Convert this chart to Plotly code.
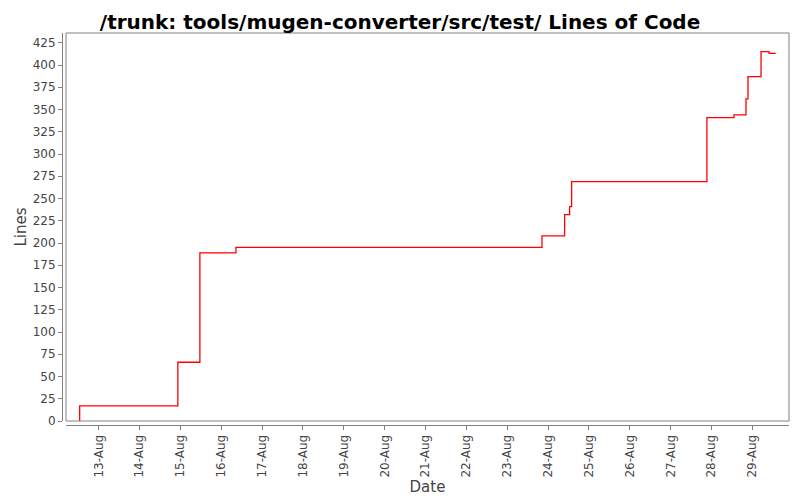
import plotly.graph_objects as go

# commit timestamps and line counts
dates = [
    "2007-08-12 12:49", "2007-08-12 12:50", "2007-08-14 22:30", "2007-08-15 11:27",
    "2007-08-16 08:38", "2007-08-23 20:25", "2007-08-24 09:43", "2007-08-24 12:40",
    "2007-08-24 13:51", "2007-08-27 21:19", "2007-08-28 13:13", "2007-08-28 20:17",
    "2007-08-28 21:27", "2007-08-29 05:07", "2007-08-29 09:49", "2007-08-29 13:45",
]
lines = [0, 17, 66, 189, 195, 208, 232, 241, 269, 341, 344, 362, 387, 415, 413, 413]

tick_dates = ["2007-08-%02d" % d for d in range(13, 30)]
y_ticks = list(range(0, 426, 25))

axis_grey = "#808080"
label_grey = "#444444"

fig = go.Figure()
fig.add_trace(go.Scatter(
    x=dates, y=lines,
    mode="lines",
    line=dict(color="#FF0000", width=1.3, shape="hv"),
    showlegend=False,
))

# the page puts the figure 8px in from the top-left, so the figure is 792x492
fig.update_layout(
    width=792, height=492,
    margin=dict(l=54, r=11, t=25, b=75, autoexpand=False),
    paper_bgcolor="white",
    plot_bgcolor="white",
    font=dict(family="DejaVu Sans", color=label_grey, size=12),
    title=dict(
        text="<b>/trunk: tools/mugen-converter/src/test/ Lines of Code</b>",
        x=0.495, xanchor="center", y=0.985, yanchor="top",
        pad=dict(t=0, b=0),
        font=dict(family="DejaVu Sans", size=20, color="black"),
    ),
    xaxis=dict(
        domain=[4 / 727, 1],
        anchor="free", position=0,
        automargin=False,
        range=["2007-08-12 04:48", "2007-08-29 21:33"],
        tickvals=tick_dates,
        tickformat="%d-%b",
        tickangle=-90,
        ticks="outside", ticklen=4, tickcolor=axis_grey,
        showline=True, linecolor=axis_grey, linewidth=1,
        showgrid=False, zeroline=False,
        title=dict(text="Date", font=dict(size=15, color=label_grey), standoff=4),
    ),
    yaxis=dict(
        domain=[4 / 392, 1],
        anchor="free", position=0,
        automargin=False,
        range=[0, 436],
        tickvals=y_ticks,
        ticks="outside", ticklen=4, tickcolor=axis_grey,
        showline=True, linecolor=axis_grey, linewidth=1,
        showgrid=False, zeroline=False,
        title=dict(text="Lines", font=dict(size=15, color=label_grey), standoff=1),
    ),
)

# plot frame
fig.add_shape(
    type="rect", xref="x domain", yref="y domain",
    x0=0, x1=1, y0=0, y1=1,
    line=dict(color=axis_grey, width=1), layer="above",
)

fig.write_html("out.html")
